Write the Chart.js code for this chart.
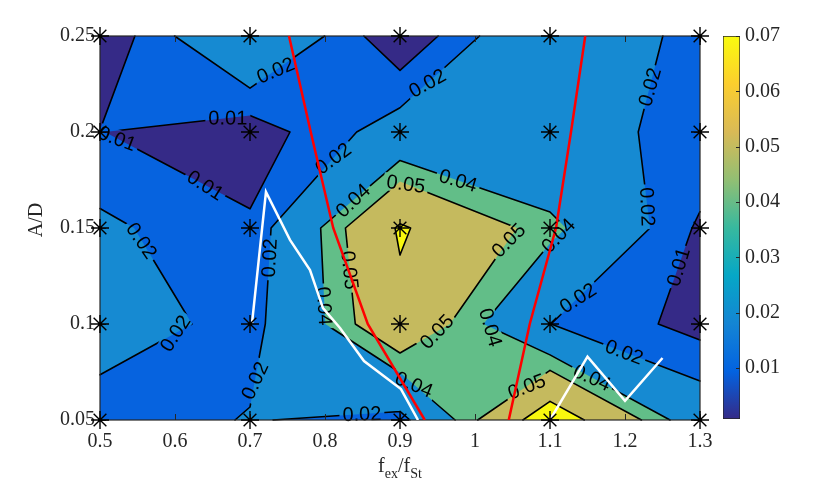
<!DOCTYPE html>
<html>
<head>
<meta charset="utf-8">
<script src="https://cdn.jsdelivr.net/npm/chart.js@4.4.0/dist/chart.umd.min.js"></script>
<style>
  html, body { margin: 0; padding: 0; background: #fff; }
  #wrap { position: relative; width: 830px; height: 485px; }
  #mainChart { position: absolute; left: 0; top: 0; }
  #barChart { position: absolute; left: 700px; top: 0; }
</style>
</head>
<body>
<div id="wrap">
  <canvas id="mainChart" width="830" height="485"></canvas>
  <canvas id="barChart" width="130" height="485"></canvas>
</div>
<script>
// measurement grid
const xValues = [0.5, 0.7, 0.9, 1.1, 1.3];
const yValues = [0.05, 0.1, 0.15, 0.2, 0.25];

// response value at every grid point, one row per A/D (bottom row first)
const zRow005 = [0.0128, 0.0208, 0.0156, 0.0820, 0.0295];
const zRow010 = [0.0281, 0.0149, 0.0649, 0.0201, 0.0061];
const zRow015 = [0.0225, 0.0115, 0.0720, 0.0438, 0.0081];
const zRow020 = [0.0102, 0.0040, 0.0265, 0.0210, 0.0193];
const zRow025 = [0.0012, 0.0390, 0.0008, 0.0370, 0.0144];

const contourLevels = [0.01, 0.02, 0.04, 0.05, 0.07];

// boundary curves
const redLeftX = [0.752, 0.781, 0.811, 0.857, 0.933];
const redLeftY = [0.25, 0.2, 0.15, 0.1, 0.05];
const redRightX = [1.147, 1.128, 1.108, 1.073, 1.045];
const redRightY = [0.25, 0.2, 0.15, 0.1, 0.05];
const whiteLeftX = [0.7027, 0.7213, 0.7533, 0.78, 0.7973, 0.82, 0.852, 0.9013, 0.924];
const whiteLeftY = [0.1005, 0.1688, 0.1438, 0.1281, 0.1083, 0.0979, 0.0807, 0.0661, 0.05];
const whiteRightX = [1.1, 1.15, 1.2, 1.25];
const whiteRightY = [0.05, 0.083, 0.06, 0.0823];

// ticks
const xTickValues = [0.5, 0.6, 0.7, 0.8, 0.9, 1.0, 1.1, 1.2, 1.3];
const yTickValues = [0.05, 0.1, 0.15, 0.2, 0.25];
const cbTickValues = [0.01, 0.02, 0.03, 0.04, 0.05, 0.06, 0.07];
const cbMin = 0.0008;
const cbMax = 0.07;

// where the inline contour labels sit: [level, x, y]
const labelSpots = [
    [0.02, 0.733, 0.2327], [0.01, 0.6707, 0.2065], [0.01, 0.5227, 0.1964],
    [0.01, 0.64, 0.1719], [0.02, 0.9373, 0.2251], [0.02, 0.8133, 0.1854],
    [0.04, 0.84, 0.163], [0.05, 0.9067, 0.1719], [0.04, 0.9773, 0.1745],
    [0.02, 1.2333, 0.2234], [0.02, 1.2267, 0.1609], [0.02, 0.5547, 0.1432],
    [0.02, 0.6, 0.0953], [0.02, 0.728, 0.1344], [0.02, 0.7093, 0.0703],
    [0.02, 0.8493, 0.0526], [0.05, 0.8347, 0.1281], [0.04, 0.8013, 0.1094],
    [0.05, 0.9493, 0.0958], [0.04, 0.916, 0.0672], [0.04, 1.024, 0.101],
    [0.02, 1.136, 0.114], [0.02, 1.196, 0.0823], [0.04, 1.156, 0.0719],
    [0.05, 1.0693, 0.0672], [0.01, 1.2747, 0.1292], [0.04, 1.1067, 0.1479],
    [0.05, 1.04, 0.1448]
];

const zGrid = [zRow005, zRow010, zRow015, zRow020, zRow025];

const bandColors = ['#352a87', '#0663df', '#168ad2', '#62be88', '#c5ba5e', '#f8f80e'];
const parulaStops = [
    [0, '#352a87'], [0.125, '#0363e1'], [0.25, '#1485d4'], [0.375, '#06a7c6'],
    [0.5, '#38b99e'], [0.625, '#92bf73'], [0.75, '#d9ba56'], [0.875, '#fcce2e'], [1, '#f9fb0e']
];
const axisColor = '#262626';
const serifFont = '"Liberation Serif", "Times New Roman", serif';
const sansFont = '"Liberation Sans", Arial, sans-serif';

function toPoints(xs, ys) {
    return xs.map((v, i) => ({ x: v, y: ys[i] }));
}

// part of one grid cell that lies at or above a level (linear along the cell edges)
function cellPieces(c, level) {
    const inside = c.map(p => p.z >= level);
    const n = inside.filter(Boolean).length;
    if (n === 0) return { polys: [], segs: [] };
    if (n === 4) return { polys: [c], segs: [] };
    const cross = (a, b) => {
        const t = (level - a.z) / (b.z - a.z);
        return { x: a.x + t * (b.x - a.x), y: a.y + t * (b.y - a.y) };
    };
    const centre = (c[0].z + c[1].z + c[2].z + c[3].z) / 4;
    if (n === 2 && inside[0] === inside[2] && centre < level) {
        // saddle with separated corners
        const polys = [], segs = [];
        for (let k = 0; k < 4; k++) {
            if (!inside[k]) continue;
            const a = cross(c[(k + 3) % 4], c[k]);
            const b = cross(c[k], c[(k + 1) % 4]);
            polys.push([a, c[k], b]);
            segs.push([b, a]);
        }
        return { polys, segs };
    }
    const poly = [], events = [];
    for (let k = 0; k < 4; k++) {
        const k2 = (k + 1) % 4;
        if (inside[k]) poly.push(c[k]);
        if (inside[k] !== inside[k2]) {
            const p = cross(c[k], c[k2]);
            poly.push(p);
            events.push({ exit: inside[k], p });
        }
    }
    const segs = [];
    events.forEach((e, i) => {
        if (!e.exit) return;
        for (let s = 1; s < events.length; s++) {
            const nx = events[(i + s) % events.length];
            if (!nx.exit) { segs.push([e.p, nx.p]); break; }
        }
    });
    return { polys: [poly], segs };
}

// one path per band so neighbouring cells leave no seams
function paintPolys(ctx, polys, color) {
    if (!polys.length) return;
    ctx.beginPath();
    polys.forEach(pts => {
        ctx.moveTo(pts[0].x, pts[0].y);
        for (let i = 1; i < pts.length; i++) ctx.lineTo(pts[i].x, pts[i].y);
        ctx.closePath();
    });
    ctx.fillStyle = color;
    ctx.fill('nonzero');
}

function fieldAt(xv, yv) {
    let i = 0, j = 0;
    while (i < xValues.length - 2 && xv > xValues[i + 1]) i++;
    while (j < yValues.length - 2 && yv > yValues[j + 1]) j++;
    const u = (xv - xValues[i]) / (xValues[i + 1] - xValues[i]);
    const v = (yv - yValues[j]) / (yValues[j + 1] - yValues[j]);
    return (1 - u) * (1 - v) * zGrid[j][i] + u * (1 - v) * zGrid[j][i + 1] +
        (1 - u) * v * zGrid[j + 1][i] + u * v * zGrid[j + 1][i + 1];
}

function nearestOnSeg(px, py, a, b) {
    const dx = b.x - a.x, dy = b.y - a.y;
    const len2 = dx * dx + dy * dy || 1;
    let t = ((px - a.x) * dx + (py - a.y) * dy) / len2;
    t = Math.max(0, Math.min(1, t));
    return { x: a.x + t * dx, y: a.y + t * dy };
}

const contourPlugin = {
    id: 'contourField',
    beforeDatasetsDraw(chart) {
        const { ctx, chartArea: area, scales: { x, y } } = chart;
        const segsByLevel = contourLevels.map(() => []);
        const polysByBand = bandColors.map(() => []);
        const corner = (i, j) => ({
            x: x.getPixelForValue(xValues[i]),
            y: y.getPixelForValue(yValues[j]),
            z: zGrid[j][i]
        });
        for (let j = 0; j < yValues.length - 1; j++) {
            for (let i = 0; i < xValues.length - 1; i++) {
                const cell = [corner(i, j + 1), corner(i + 1, j + 1), corner(i + 1, j), corner(i, j)];
                polysByBand[0].push(cell);
                contourLevels.forEach((lv, k) => {
                    const piece = cellPieces(cell, lv);
                    polysByBand[k + 1].push(...piece.polys);
                    segsByLevel[k].push(...piece.segs);
                });
            }
        }
        ctx.save();
        // paint band by band, lowest first
        polysByBand.forEach((polys, b) => paintPolys(ctx, polys, bandColors[b]));

        // place labels on the lines
        ctx.font = '20px ' + sansFont;
        const f = (px, py) => fieldAt(x.getValueForPixel(px), y.getValueForPixel(py));
        const labels = labelSpots.map(([lv, lx, ly]) => {
            const k = contourLevels.indexOf(lv);
            const ax = x.getPixelForValue(lx), ay = y.getPixelForValue(ly);
            let best = { x: ax, y: ay }, bestD = Infinity;
            segsByLevel[k].forEach(([a, b]) => {
                const p = nearestOnSeg(ax, ay, a, b);
                const d = Math.hypot(p.x - ax, p.y - ay);
                if (d < bestD) { bestD = d; best = p; }
            });
            const h = 8;
            const gx = f(best.x + h, best.y) - f(best.x - h, best.y);
            const gy = f(best.x, best.y + h) - f(best.x, best.y - h);
            let angle = Math.atan2(gx, -gy);
            if (angle > Math.PI / 2) angle -= Math.PI;
            if (angle <= -Math.PI / 2) angle += Math.PI;
            const text = lv.toFixed(2);
            return { px: best.x, py: best.y, angle, text, w: ctx.measureText(text).width };
        });

        // contour lines with gaps under the labels
        ctx.save();
        ctx.beginPath();
        ctx.rect(area.left - 5, area.top - 5, area.width + 10, area.height + 10);
        labels.forEach(l => {
            const hw = l.w / 2 + 3, hh = 9;
            const c = Math.cos(l.angle), s = Math.sin(l.angle);
            const pts = [[-hw, -hh], [hw, -hh], [hw, hh], [-hw, hh]]
                .map(([u, v]) => [l.px + u * c - v * s, l.py + u * s + v * c]);
            ctx.moveTo(pts[0][0], pts[0][1]);
            pts.slice(1).forEach(p => ctx.lineTo(p[0], p[1]));
            ctx.closePath();
        });
        ctx.clip('evenodd');
        ctx.beginPath();
        segsByLevel.flat().forEach(([a, b]) => {
            ctx.moveTo(a.x, a.y);
            ctx.lineTo(b.x, b.y);
        });
        ctx.strokeStyle = '#000';
        ctx.lineWidth = 1.6;
        ctx.lineCap = 'round';
        ctx.stroke();
        ctx.restore();

        ctx.fillStyle = '#000';
        ctx.textAlign = 'center';
        ctx.textBaseline = 'middle';
        labels.forEach(l => {
            ctx.save();
            ctx.translate(l.px, l.py);
            ctx.rotate(l.angle);
            ctx.fillText(l.text, 0, 1);
            ctx.restore();
        });

        // axes box with inward ticks
        ctx.strokeStyle = axisColor;
        ctx.lineWidth = 1;
        ctx.beginPath();
        xTickValues.forEach(v => {
            const px = Math.round(x.getPixelForValue(v)) + 0.5;
            ctx.moveTo(px, area.bottom); ctx.lineTo(px, area.bottom - 6);
            ctx.moveTo(px, area.top); ctx.lineTo(px, area.top + 6);
        });
        yTickValues.forEach(v => {
            const py = Math.round(y.getPixelForValue(v)) + 0.5;
            ctx.moveTo(area.left, py); ctx.lineTo(area.left + 6, py);
            ctx.moveTo(area.right, py); ctx.lineTo(area.right - 6, py);
        });
        ctx.stroke();
        ctx.lineWidth = 1.2;
        ctx.strokeRect(area.left, area.top, area.width, area.height);
        ctx.restore();
    },
    afterDraw(chart) {
        const { ctx, chartArea: area } = chart;
        ctx.save();
        ctx.fillStyle = axisColor;
        ctx.textBaseline = 'alphabetic';
        // y axis title
        ctx.font = '20px ' + serifFont;
        ctx.save();
        ctx.translate(42, 220);
        ctx.rotate(-Math.PI / 2);
        ctx.textAlign = 'center';
        ctx.fillText('A/D', 0, 0);
        ctx.restore();
        // x axis title with subscripts
        const parts = [['f', 20, 0], ['ex', 14, 6], ['/f', 20, 0], ['St', 14, 6]];
        let total = 0;
        parts.forEach(([t, s]) => { ctx.font = s + 'px ' + serifFont; total += ctx.measureText(t).width; });
        let cx = (area.left + area.right) / 2 - total / 2;
        ctx.textAlign = 'left';
        parts.forEach(([t, s, dy]) => {
            ctx.font = s + 'px ' + serifFont;
            ctx.fillText(t, cx, 472 + dy);
            cx += ctx.measureText(t).width;
        });
        ctx.restore();
    }
};

new Chart(document.getElementById('mainChart'), {
    type: 'scatter',
    data: {
        datasets: [
            {
                label: 'grid',
                data: yValues.flatMap(yv => xValues.map(xv => ({ x: xv, y: yv }))),
                pointStyle: 'star',
                pointRadius: 9,
                borderColor: '#000',
                backgroundColor: '#000',
                borderWidth: 1.4,
                showLine: false,
                clip: false,
                order: 0
            },
            {
                label: 'red left',
                data: toPoints(redLeftX, redLeftY),
                showLine: true, pointRadius: 0, borderColor: '#ff0000', borderWidth: 2.5, order: 2
            },
            {
                label: 'red right',
                data: toPoints(redRightX, redRightY),
                showLine: true, pointRadius: 0, borderColor: '#ff0000', borderWidth: 2.5, order: 2
            },
            {
                label: 'white left',
                data: toPoints(whiteLeftX, whiteLeftY),
                showLine: true, pointRadius: 0, borderColor: '#ffffff', borderWidth: 2.5, order: 1
            },
            {
                label: 'white right',
                data: toPoints(whiteRightX, whiteRightY),
                showLine: true, pointRadius: 0, borderColor: '#ffffff', borderWidth: 2.5, order: 1
            }
        ]
    },
    options: {
        responsive: false,
        animation: false,
        layout: { padding: { left: 0, top: 36, right: 130, bottom: 0 } },
        plugins: { legend: { display: false }, tooltip: { enabled: false } },
        scales: {
            x: {
                type: 'linear',
                min: 0.5,
                max: 1.3,
                afterBuildTicks: s => { s.ticks = xTickValues.map(v => ({ value: v })); },
                afterFit: s => { s.height = 65; },
                grid: { display: false, drawTicks: false },
                border: { display: false },
                ticks: {
                    autoSkip: false,
                    maxRotation: 0,
                    padding: 10,
                    color: axisColor,
                    font: { family: serifFont, size: 20 },
                    callback: v => String(+v.toFixed(2))
                }
            },
            y: {
                type: 'linear',
                min: 0.05,
                max: 0.25,
                afterBuildTicks: s => { s.ticks = yTickValues.map(v => ({ value: v })); },
                afterFit: s => { s.width = 100; },
                grid: { display: false, drawTicks: false },
                border: { display: false },
                ticks: {
                    autoSkip: false,
                    padding: 5,
                    color: axisColor,
                    font: { family: serifFont, size: 20 },
                    callback: v => String(+v.toFixed(3))
                }
            }
        }
    },
    plugins: [contourPlugin]
});

// colour bar
const cbTicksPlugin = {
    id: 'cbTicks',
    afterDatasetsDraw(chart) {
        const { ctx, chartArea: area, scales: { y } } = chart;
        ctx.save();
        ctx.strokeStyle = axisColor;
        ctx.lineWidth = 1;
        ctx.beginPath();
        cbTickValues.forEach(v => {
            const py = Math.round(y.getPixelForValue(v)) + 0.5;
            ctx.moveTo(area.right, py);
            ctx.lineTo(area.right - 4, py);
        });
        ctx.stroke();
        ctx.restore();
    }
};

new Chart(document.getElementById('barChart'), {
    type: 'bar',
    data: {
        labels: [''],
        datasets: [{
            data: [[cbMin, cbMax]],
            backgroundColor: c => {
                const a = c.chart.chartArea;
                if (!a) return parulaStops[0][1];
                const g = c.chart.ctx.createLinearGradient(0, a.bottom, 0, a.top);
                parulaStops.forEach(([t, col]) => g.addColorStop(t, col));
                return g;
            },
            borderColor: axisColor,
            borderWidth: 1,
            borderSkipped: false,
            barPercentage: 1,
            categoryPercentage: 1
        }]
    },
    options: {
        responsive: false,
        animation: false,
        layout: { padding: { left: 23, top: 36, right: 0, bottom: 66 } },
        plugins: { legend: { display: false }, tooltip: { enabled: false } },
        scales: {
            x: { display: false },
            y: {
                position: 'right',
                min: cbMin,
                max: cbMax,
                afterBuildTicks: s => { s.ticks = cbTickValues.map(v => ({ value: v })); },
                afterFit: s => { s.width = 90; },
                grid: { display: false, drawTicks: false },
                border: { display: false },
                ticks: {
                    padding: 5,
                    color: axisColor,
                    font: { family: serifFont, size: 20 },
                    callback: v => v.toFixed(2)
                }
            }
        }
    },
    plugins: [cbTicksPlugin]
});
</script>
</body>
</html>
